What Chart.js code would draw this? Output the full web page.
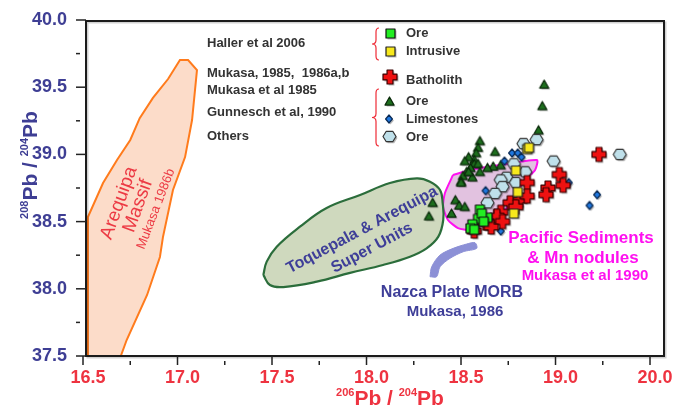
<!DOCTYPE html>
<html><head><meta charset="utf-8">
<script src="https://cdn.jsdelivr.net/npm/chart.js@4.4.0/dist/chart.umd.min.js"></script>
<style>html,body{margin:0;padding:0;background:#fff;}#wrap{width:676px;height:408px;}</style>
</head><body><div id="wrap"><canvas id="c" width="676" height="408"></canvas></div>
<script>
// ---- tick values / labels ----
const xTickValues = [16.5, 17.0, 17.5, 18.0, 18.5, 19.0, 19.5];
const xTickLabels = ['16.5', '17.0', '17.5', '18.0', '18.5', '19.0', '20.0'];
const yTickValues = [37.5, 38.0, 38.5, 39.0, 39.5, 40.0];
const yTickLabels = ['37.5', '38.0', '38.5', '39.0', '39.5', '40.0'];

// ---- point series [206Pb/204Pb, 208Pb/204Pb] ----
const hallerOre = [[18.60,38.59],[18.64,38.53],[18.59,38.52],[18.56,38.48],[18.55,38.45],[18.57,38.44],[18.61,38.56],[18.62,38.50]];
const hallerIntrusive = [[18.85,39.04],[18.86,39.05],[18.79,38.88],[18.80,38.72],[18.78,38.56]];
const batholith = [[19.23,39.00],[19.02,38.85],[18.96,38.75],[18.95,38.70],[19.04,38.77],[18.85,38.79],[18.81,38.66],[18.76,38.64],[18.71,38.57],[18.69,38.54],[18.63,38.49],[18.57,38.43],[18.72,38.50],[18.79,38.61],[18.85,38.69],[18.66,38.46]];
const mukasaOre = [[18.94,39.52],[18.93,39.36],[18.91,39.18],[18.60,39.10],[18.59,39.05],[18.58,39.01],[18.57,38.96],[18.57,38.93],[18.55,38.90],[18.53,38.87],[18.51,38.84],[18.50,38.80],[18.68,39.02],[18.71,38.92],[18.67,38.91],[18.64,38.90],[18.59,38.93],[18.60,38.87],[18.56,38.83],[18.50,38.79],[18.47,38.66],[18.49,38.62],[18.52,38.61],[18.45,38.56],[18.35,38.64],[18.33,38.54],[18.54,38.98],[18.52,38.95],[18.54,38.87]];
const limestones = [[18.77,39.01],[18.80,39.01],[18.82,38.98],[18.73,38.95],[18.63,38.73],[19.07,38.79],[19.22,38.70],[19.18,38.62],[18.71,38.43]];
const othersOre = [[18.90,39.11],[18.83,39.08],[18.99,38.95],[18.78,38.93],[18.84,38.87],[18.74,38.83],[18.71,38.81],[18.72,38.76],[18.68,38.71],[18.64,38.64],[18.77,38.64],[19.34,39.00],[18.79,38.79]];

// ---- field outlines ----
const arequipaMassif = [[16.526,37.5],[16.70,37.5],[16.731,37.619],[16.839,37.954],[16.907,38.237],[16.923,38.385],[16.976,38.735],[17.04,38.98],[17.077,39.256],[17.103,39.628],[17.056,39.702],[17.013,39.702],[16.95,39.561],[16.87,39.42],[16.80,39.27],[16.75,39.107],[16.68,38.958],[16.606,38.787],[16.526,38.534],[16.526,37.5]];
const toquepalaUnits = [[17.454,38.103],[17.489,38.028],[17.56,38.013],[17.737,38.053],[17.913,38.118],[18.087,38.177],[18.23,38.239],[18.318,38.301],[18.38,38.388],[18.406,38.512],[18.403,38.638],[18.389,38.735],[18.336,38.797],[18.266,38.822],[18.124,38.787],[17.966,38.698],[17.789,38.601],[17.648,38.462],[17.525,38.313],[17.472,38.202],[17.454,38.103]];
const nazcaMorb = [[18.336,38.090],[18.345,38.164],[18.389,38.251],[18.459,38.301],[18.530,38.333],[18.574,38.343],[18.583,38.301],[18.512,38.276],[18.442,38.227],[18.389,38.164],[18.371,38.090],[18.336,38.090]];
const pacificSediments = [[18.458,38.847],[18.548,38.884],[18.706,38.921],[18.902,38.958],[18.892,38.884],[18.839,38.810],[18.786,38.698],[18.733,38.586],[18.653,38.497],[18.548,38.438],[18.484,38.452],[18.431,38.512],[18.405,38.609],[18.415,38.713],[18.458,38.847]];

const toXY = arr => arr.map(p => ({x: p[0], y: p[1]}));
const FONT = "'Liberation Sans', Arial, sans-serif";

function makeMarker(kind, size, fill, stroke) {
  const pad = 3, s = Math.ceil(size + pad * 2);
  const c = document.createElement('canvas');
  c.width = s; c.height = s;
  const g = c.getContext('2d');
  const h = size / 2;
  function path(ox, oy) {
    const x = s / 2 + ox, y = s / 2 + oy;
    g.beginPath();
    if (kind === 'square') g.rect(x - h, y - h, size, size);
    else if (kind === 'triangle') { g.moveTo(x, y - h); g.lineTo(x + h, y + h * 0.8); g.lineTo(x - h, y + h * 0.8); g.closePath(); }
    else if (kind === 'diamond') { g.moveTo(x, y - h); g.lineTo(x + h * 0.85, y); g.lineTo(x, y + h); g.lineTo(x - h * 0.85, y); g.closePath(); }
    else if (kind === 'hex') { const hh = h * 0.8; g.moveTo(x - h, y); g.lineTo(x - h / 2, y - hh); g.lineTo(x + h / 2, y - hh); g.lineTo(x + h, y); g.lineTo(x + h / 2, y + hh); g.lineTo(x - h / 2, y + hh); g.closePath(); }
    else if (kind === 'cross') {
      const t = size * 0.21;
      g.moveTo(x - t, y - h); g.lineTo(x + t, y - h); g.lineTo(x + t, y - t); g.lineTo(x + h, y - t); g.lineTo(x + h, y + t);
      g.lineTo(x + t, y + t); g.lineTo(x + t, y + h); g.lineTo(x - t, y + h); g.lineTo(x - t, y + t); g.lineTo(x - h, y + t);
      g.lineTo(x - h, y - t); g.lineTo(x - t, y - t); g.closePath();
    }
  }
  path(1.5, 1.5); g.fillStyle = 'rgba(0,0,0,0.28)'; g.fill();
  path(0, 0); g.fillStyle = fill; g.fill();
  g.lineJoin = 'round'; g.lineWidth = 1.2; g.strokeStyle = stroke; g.stroke();
  return c;
}
const mk = {
  greenSq: makeMarker('square', 9, '#22ee22', '#111'),
  yellowSq: makeMarker('square', 9, '#f7e81c', '#222'),
  cross: makeMarker('cross', 14, '#ee1111', '#3a0000'),
  tri: makeMarker('triangle', 9, '#1d6e1d', '#0a2a0a'),
  dia: makeMarker('diamond', 8, '#1f78e0', '#0a2a55'),
  hex: makeMarker('hex', 13, '#bfe0ea', '#333')
};

function pts(label, data, style, order) {
  return { type: 'scatter', label, data: toXY(data), pointStyle: style, pointRadius: 5, order, showLine: false };
}
function poly(label, data, border, bg, tension, width) {
  return { type: 'line', label, data: toXY(data), borderColor: border, backgroundColor: bg, fill: 'shape',
    borderWidth: width, pointRadius: 0, tension, order: 100, spanGaps: true };
}

function isoLabel(ctx, x, y, sup1, sup2, big, small, color) {
  const fb = 'bold ' + big + 'px ' + FONT, fs = 'bold ' + small + 'px ' + FONT;
  const parts = [[sup1, fs, -big * 0.42], ['Pb / ', fb, 0], [sup2, fs, -big * 0.42], ['Pb', fb, 0]];
  let w = 0;
  parts.forEach(p => { ctx.font = p[1]; w += ctx.measureText(p[0]).width; });
  let cx = x - w / 2;
  ctx.fillStyle = color; ctx.textAlign = 'left'; ctx.textBaseline = 'alphabetic';
  parts.forEach(p => { ctx.font = p[1]; ctx.fillText(p[0], cx, y + p[2]); cx += ctx.measureText(p[0]).width; });
}
function rotText(ctx, text, x, y, ang, font, color) {
  ctx.save(); ctx.translate(x, y); ctx.rotate(ang * Math.PI / 180);
  ctx.font = font; ctx.fillStyle = color; ctx.textAlign = 'center'; ctx.textBaseline = 'middle';
  ctx.fillText(text, 0, 0); ctx.restore();
}
function brace(ctx, x, y1, y2, w) {
  const ym = (y1 + y2) / 2;
  ctx.beginPath();
  ctx.moveTo(x + 3, y1);
  ctx.quadraticCurveTo(x, y1, x, y1 + 4);
  ctx.lineTo(x, ym - 4);
  ctx.quadraticCurveTo(x, ym, x - w, ym);
  ctx.quadraticCurveTo(x, ym, x, ym + 4);
  ctx.lineTo(x, y2 - 4);
  ctx.quadraticCurveTo(x, y2, x + 3, y2);
  ctx.stroke();
}

const decor = {
  id: 'decor',
  beforeDraw(chart) {
    const ctx = chart.ctx; ctx.save(); ctx.fillStyle = '#fff'; ctx.fillRect(0, 0, chart.width, chart.height); ctx.restore();
  },
  afterDatasetDraw(chart, args) {
    const ctx = chart.ctx, lab = chart.data.datasets[args.index].label;
    ctx.save();
    if (lab === 'Arequipa Massif') {
      const red = '#ec3a44';
      rotText(ctx, 'Arequipa', 119, 203, -70, '19px ' + FONT, red);
      rotText(ctx, 'Massif', 138, 206, -70, '19px ' + FONT, red);
      rotText(ctx, 'Mukasa 1986b', 156, 209, -69, '13px ' + FONT, red);
    } else if (lab === 'Toquepala & Arequipa Super Units') {
      rotText(ctx, 'Toquepala & Arequipa', 362, 230, -28, 'bold 16px ' + FONT, '#3e3e98');
      rotText(ctx, 'Super Units', 372, 248, -28, 'bold 16px ' + FONT, '#3e3e98');
    }
    ctx.restore();
  },
  afterDraw(chart) {
    const ctx = chart.ctx, ca = chart.chartArea;
    const xs = chart.scales.x, ys = chart.scales.y;
    ctx.save();
    // annotations
    ctx.textAlign = 'center'; ctx.textBaseline = 'middle';
    ctx.fillStyle = '#3e3e98';
    ctx.font = 'bold 16px ' + FONT; ctx.fillText('Nazca Plate MORB', 452, 293);
    ctx.font = 'bold 15px ' + FONT; ctx.fillText('Mukasa, 1986', 455, 312);
    ctx.fillStyle = '#ff10f0';
    ctx.font = 'bold 17px ' + FONT; ctx.fillText('Pacific Sediments', 581, 238);
    ctx.fillText('& Mn nodules', 583, 258);
    ctx.font = 'bold 15px ' + FONT; ctx.fillText('Mukasa et al 1990', 585, 276);

    // frame
    const L = ca.left + 3, T = ca.top + 1, R = ca.right, B = ca.bottom;
    ctx.strokeStyle = 'rgba(0,0,0,0.18)'; ctx.lineWidth = 2;
    ctx.strokeRect(L + 1.5, T + 1.5, R - L, B - T);
    ctx.strokeStyle = '#1b1b1b'; ctx.lineWidth = 2;
    ctx.strokeRect(L, T, R - L, B - T);
    // ticks
    ctx.lineWidth = 1.5; ctx.strokeStyle = '#222';
    for (let i = 0; i <= 10; i++) {
      const v = 37.5 + i * 0.25, py = ys.getPixelForValue(v);
      ctx.beginPath();
      if (i % 2 === 0) { ctx.moveTo(L - 10, py); ctx.lineTo(L, py); } else { ctx.moveTo(L - 10, py); ctx.lineTo(L - 6, py); }
      ctx.stroke();
    }
    for (let i = 0; i <= 12; i++) {
      const v = 16.5 + i * 0.25, px = xs.getPixelForValue(v);
      ctx.beginPath();
      if (i % 2 === 0) { ctx.moveTo(px, B); ctx.lineTo(px, B + 9); } else { ctx.moveTo(px, B + 5); ctx.lineTo(px, B + 9); }
      ctx.stroke();
    }
    // axis titles
    isoLabel(ctx, 390, 405, '206', '204', 21, 11, '#ee3340');
    ctx.save(); ctx.translate(37, 165); ctx.rotate(-Math.PI / 2);
    isoLabel(ctx, 0, 0, '208', '204', 21, 11, '#3e3e94');
    ctx.restore();

    // legend
    ctx.fillStyle = '#333'; ctx.textAlign = 'left'; ctx.textBaseline = 'middle';
    ctx.font = 'bold 13px ' + FONT;
    ctx.fillText('Haller et al 2006', 207, 43);
    ctx.fillText('Mukasa, 1985,  1986a,b', 207, 73);
    ctx.fillText('Mukasa et al 1985', 207, 90);
    ctx.fillText('Gunnesch et al, 1990', 207, 112);
    ctx.fillText('Others', 207, 136);
    ctx.strokeStyle = '#ee2b36'; ctx.lineWidth = 1.2;
    brace(ctx, 376, 28, 60, 4);
    brace(ctx, 376, 89, 146, 4);
    const leg = [[mk.greenSq, 390, 33, 'Ore', 33], [mk.yellowSq, 390, 51, 'Intrusive', 51], [mk.cross, 390, 77, 'Batholith', 80],
      [mk.tri, 389, 101, 'Ore', 101], [mk.dia, 389, 119, 'Limestones', 119], [mk.hex, 389, 136, 'Ore', 137]];
    leg.forEach(e => {
      ctx.drawImage(e[0], Math.round(e[1] - e[0].width / 2), Math.round(e[2] - e[0].height / 2));
      ctx.fillText(e[3], 406, e[4]);
    });
    ctx.restore();
  }
};

Chart.defaults.font.family = FONT;
new Chart(document.getElementById('c'), {
  type: 'scatter',
  data: {
    datasets: [
      poly('Arequipa Massif', arequipaMassif, '#ff7b1c', '#fcdcc9', 0, 2),
      poly('Toquepala & Arequipa Super Units', toquepalaUnits, '#2b6d3b', '#cfd9be', 0.4, 2.2),
      poly('Nazca Plate MORB', nazcaMorb, '#8c90d6', '#8c90d6', 0.3, 1),
      poly('Pacific Sediments & Mn nodules', pacificSediments, '#ff10f0', '#e2c2e0', 0.2, 2),
      pts('Mukasa Ore', mukasaOre, mk.tri, 6),
      pts('Limestones', limestones, mk.dia, 5),
      pts('Others Ore', othersOre, mk.hex, 4),
      pts('Batholith', batholith, mk.cross, 3),
      pts('Intrusive', hallerIntrusive, mk.yellowSq, 2),
      pts('Haller Ore', hallerOre, mk.greenSq, 1)
    ]
  },
  options: {
    responsive: false, devicePixelRatio: 1, animation: false, events: [],
    layout: { padding: { top: 20, right: 12, left: 0, bottom: 0 } },
    plugins: { legend: { display: false }, tooltip: { enabled: false } },
    scales: {
      x: {
        type: 'linear', min: 16.5, max: 19.574,
        afterBuildTicks: s => { s.ticks = xTickValues.map(v => ({ value: v })); },
        afterFit: s => { s.height = 52; },
        grid: { display: false }, border: { display: false },
        ticks: { autoSkip: false, maxRotation: 0, padding: 3, labelOffset: 5, color: '#ee3340',
          font: { size: 18, weight: 'bold' }, callback: (v, i) => xTickLabels[i] }
      },
      y: {
        type: 'linear', min: 37.5, max: 40.0,
        afterBuildTicks: s => { s.ticks = yTickValues.map(v => ({ value: v })); },
        afterFit: s => { s.width = 83; },
        grid: { display: false }, border: { display: false },
        ticks: { autoSkip: false, padding: 8, color: '#3e3e94',
          font: { size: 18, weight: 'bold' }, callback: (v, i) => yTickLabels[i] }
      }
    }
  },
  plugins: [decor]
});
</script></body></html>
